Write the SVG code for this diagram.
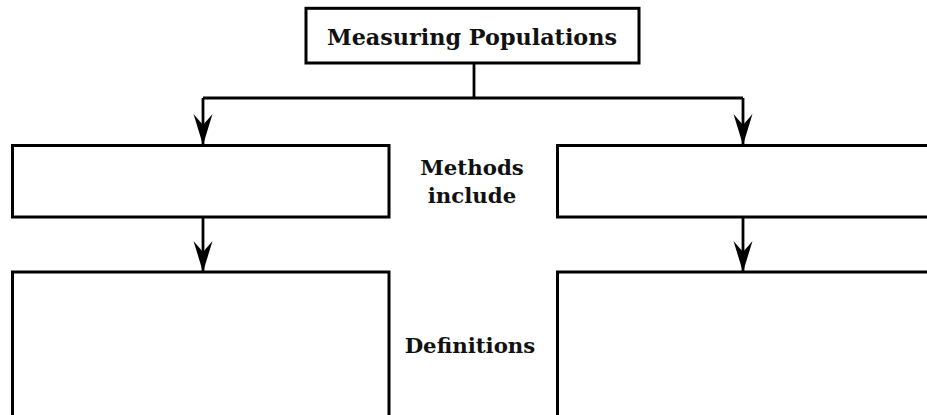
<svg xmlns="http://www.w3.org/2000/svg" width="927" height="415" viewBox="0 0 927 415">
<defs>
<style>
.box{fill:#fff;stroke:#000;stroke-width:3}
.ln{fill:none;stroke:#000;stroke-width:2.8}
.t{font-family:"DejaVu Serif","Liberation Serif",serif;font-weight:bold;fill:#111;text-anchor:middle}
</style>
<marker id="ah" markerUnits="userSpaceOnUse" markerWidth="22" markerHeight="34" viewBox="-11 -32 22 34" refX="0" refY="0" orient="auto-start-reverse" overflow="visible">
<path d="M0,0 L-9.5,-31 L0,-20 L9.5,-31 Z" fill="#000" transform="rotate(-90)"/>
</marker>
</defs>
<rect width="927" height="415" fill="#fff"/>
<g id="connectors">
<path class="ln" d="M474,63 V98"/>
<path class="ln" d="M203,98 H743"/>
<path class="ln" d="M203,98 V145" marker-end="url(#ah)"/>
<path class="ln" d="M743,98 V145" marker-end="url(#ah)"/>
<path class="ln" d="M203,217 V272" marker-end="url(#ah)"/>
<path class="ln" d="M743,217 V272" marker-end="url(#ah)"/>
</g>
<g id="root">
<rect class="box" x="306" y="8.3" width="333" height="54.7"/>
<text class="t" x="472" y="45" font-size="22.3">Measuring Populations</text>
</g>
<g id="method-left"><rect class="box" x="12.5" y="145.5" width="376.5" height="71.5"/></g>
<g id="method-right"><rect class="box" x="557.5" y="145.5" width="380" height="71.5"/></g>
<g id="def-left"><rect class="box" x="12.5" y="272" width="376.5" height="145"/></g>
<g id="def-right"><rect class="box" x="557.5" y="272" width="380" height="145"/></g>
<g id="label-methods">
<text class="t" x="472" y="175" font-size="21.3">Methods</text>
<text class="t" x="472" y="203" font-size="21.3">include</text>
</g>
<g id="label-definitions">
<text class="t" x="470" y="353" font-size="21.3">Definitions</text>
</g>
</svg>
